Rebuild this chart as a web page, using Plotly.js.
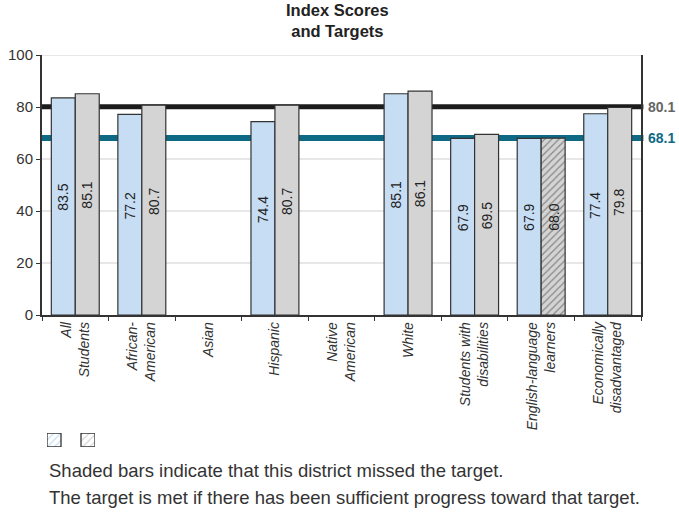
<!DOCTYPE html>
<html>
<head>
<meta charset="utf-8">
<script src="https://cdn.plot.ly/plotly-3.0.1.min.js"></script>
<style>html,body{margin:0;padding:0;background:#fff;}</style>
</head>
<body>
<div id="chart" style="width:679px;height:516px;"></div>
<script>
// ---- data ----
const categories = ["All<br>Students", "African-<br>American", "Asian", "Hispanic", "Native<br>American", "White", "Students with<br>disabilities", "English-language<br>learners", "Economically<br>disadvantaged"];
const scoreA = [83.5, 77.2, null, 74.4, null, 85.1, 67.9, 67.9, 77.4];
const scoreB = [85.1, 80.7, null, 80.7, null, 86.1, 69.5, 68.0, 79.8];
const missedB = [false, false, false, false, false, false, false, true, false];
const targetHigh = 80.1;
const targetLow = 68.1;
const yTicks = [0, 20, 40, 60, 80, 100];
const legendKeys = ["blue shaded", "gray shaded"];
const chartTitle = "Index Scores<br>and Targets";
const notes = ["Shaded bars indicate that this district missed the target.",
               "The target is met if there has been sufficient progress toward that target."];

const FONT = "Liberation Sans, Arial, sans-serif";
const blue = "#c6ddf3", gray = "#d4d4d4", outline = "#333333";

const traceA = {
  type: "bar", x: categories, y: scoreA,
  marker: {color: blue, line: {color: outline, width: 1.2}},
  hoverinfo: "none", showlegend: false
};
const traceB = {
  type: "bar", x: categories, y: scoreB,
  marker: {color: gray, line: {color: outline, width: 1.2},
           pattern: {shape: missedB.map(m => m ? "/" : ""), size: 5, solidity: 0.25, fgcolor: "#888", bgcolor: gray}},
  hoverinfo: "none", showlegend: false
};
const legendTrace = {
  type: "bar", x: [7, 41], y: [1, 1], width: [14, 14], xaxis: "x2", yaxis: "y2",
  text: legendKeys, textposition: "none",
  marker: {color: [blue, gray], line: {color: outline, width: 1.3},
           pattern: {shape: "/", size: 5, solidity: 0.25, fgcolor: "#888"}},
  hoverinfo: "none", showlegend: false
};

// value labels centred in each bar, rotated
const valueLabels = [];
function addLabels(vals, shift) {
  vals.forEach((v, i) => {
    if (v === null) return;
    valueLabels.push({xref: "x", yref: "y", x: categories[i], y: v / 2, xshift: shift, yshift: 9,
      text: v.toFixed(1), textangle: -90, showarrow: false, xanchor: "center", yanchor: "middle",
      font: {family: FONT, size: 14, color: "#222"}});
  });
}
addLabels(scoreA, -12);
addLabels(scoreB, 12);

const gridShapes = yTicks.filter(v => v > 0).map(v => ({
  type: "line", xref: "paper", yref: "y", x0: 0, x1: 1, y0: v, y1: v,
  line: {color: "#cfcfcf", width: 1}, layer: "below"}));

const layout = {
  width: 679, height: 516,
  margin: {l: 42, r: 38, t: 55, b: 20},
  paper_bgcolor: "#fff", plot_bgcolor: "rgba(0,0,0,0)",
  font: {family: FONT, color: "#333"},
  barmode: "group", bargap: 0.28, bargroupgap: 0,
  showlegend: false,
  xaxis: {
    domain: [0, 1], anchor: "y", type: "category",
    showline: true, linecolor: "#333", linewidth: 1.5,
    ticks: "outside", tickson: "boundaries", ticklen: 4, tickcolor: "#333",
    tickangle: -90, tickfont: {family: FONT, size: 14, color: "#333", style: "italic"},
    showgrid: false, fixedrange: true
  },
  yaxis: {
    domain: [0.41043, 1], anchor: "x",
    range: [0, 100], tickvals: yTicks, ticktext: yTicks.map(String),
    showline: true, linecolor: "#333", linewidth: 2, mirror: true,
    ticks: "outside", ticklen: 4, tickcolor: "#333",
    tickfont: {family: FONT, size: 15, color: "#333"},
    showgrid: false, zeroline: false, fixedrange: true
  },
  xaxis2: {domain: [0.00835, 0.08848], anchor: "y2", range: [0, 48], visible: false, fixedrange: true},
  yaxis2: {domain: [0.1111, 0.1429], anchor: "x2", range: [0, 1], visible: false, fixedrange: true},
  shapes: gridShapes.concat([
    {type: "line", xref: "paper", yref: "y", x0: 0, x1: 1.004, y0: targetHigh, y1: targetHigh,
     line: {color: "#1c1c1c", width: 5}, layer: "below"},
    {type: "line", xref: "paper", yref: "y", x0: 0, x1: 1.004, y0: targetLow, y1: targetLow,
     line: {color: "#0e6984", width: 6}, layer: "below"}
  ]),
  annotations: valueLabels.concat([
    {xref: "paper", yref: "paper", x: 0.493, y: 1.128, xanchor: "center", yanchor: "top", showarrow: false,
     text: "<b>" + chartTitle + "</b>", font: {family: FONT, size: 16.5, color: "#222"}},
    {xref: "paper", yref: "y", x: 1.008, y: targetHigh, xanchor: "left", yanchor: "middle", showarrow: false,
     text: "<b>" + targetHigh.toFixed(1) + "</b>", font: {family: FONT, size: 14, color: "#666"}},
    {xref: "paper", yref: "y", x: 1.008, y: targetLow, xanchor: "left", yanchor: "middle", showarrow: false,
     text: "<b>" + targetLow.toFixed(1) + "</b>", font: {family: FONT, size: 14, color: "#0e6984"}},
    {xref: "paper", yref: "paper", x: 0.0083, y: 0.0567, xanchor: "left", yanchor: "middle", showarrow: false,
     text: notes[0], font: {family: FONT, size: 18.5, color: "#333"}},
    {xref: "paper", yref: "paper", x: 0.0083, y: -0.0023, xanchor: "left", yanchor: "middle", showarrow: false,
     text: notes[1], font: {family: FONT, size: 18.5, color: "#333"}}
  ])
};

Plotly.newPlot("chart", [traceA, traceB, legendTrace], layout, {displayModeBar: false, staticPlot: true});
</script>
</body>
</html>
